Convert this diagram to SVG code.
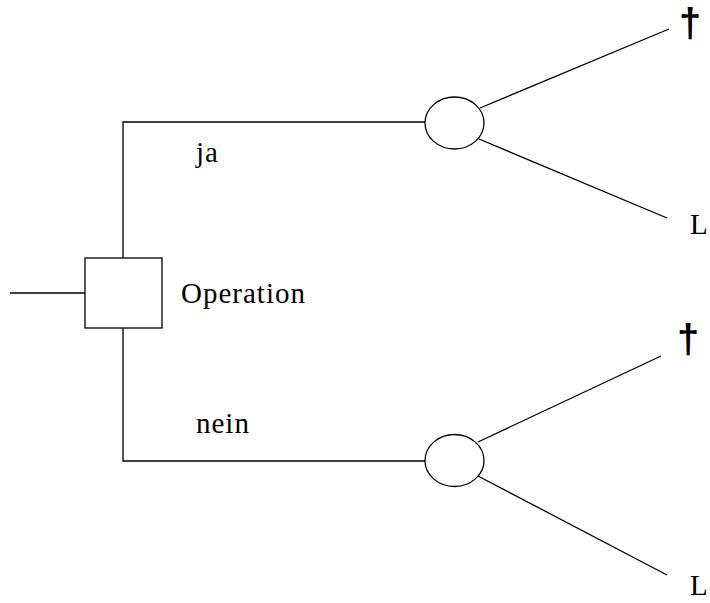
<svg xmlns="http://www.w3.org/2000/svg" width="710" height="603" viewBox="0 0 710 603">
<style>
.ln{stroke:#000;stroke-width:1.3;fill:none}
.nd{stroke:#000;stroke-width:1.3;fill:#fff}
.t{font-family:'Liberation Serif','DejaVu Serif',serif;font-size:29px;fill:#000;letter-spacing:1px}
.d{font-family:'Liberation Sans',sans-serif;font-size:40px;font-weight:bold;fill:#000;text-anchor:middle}
</style>
<rect width="710" height="603" fill="#fff"/>
<g id="connectors">
<line class="ln" x1="10" y1="293" x2="85" y2="293"/>
<polyline class="ln" points="123,258 123,122 425,122"/>
<polyline class="ln" points="123,328 123,461 425,461"/>
<line class="ln" x1="480" y1="108" x2="669" y2="29"/>
<line class="ln" x1="479" y1="139" x2="667" y2="218"/>
<line class="ln" x1="478" y1="442" x2="661" y2="356"/>
<line class="ln" x1="478" y1="476" x2="667" y2="575"/>
</g>
<g id="decision">
<rect class="nd" x="85" y="258" width="77" height="70"/>
<text class="t" x="181" y="303">Operation</text>
</g>
<g id="label-ja"><text class="t" x="196" y="162">ja</text></g>
<g id="label-nein"><text class="t" x="196" y="433">nein</text></g>
<g id="chance-top"><ellipse class="nd" cx="454.5" cy="123" rx="29.5" ry="26"/></g>
<g id="chance-bottom"><ellipse class="nd" cx="454.5" cy="460.5" rx="29.5" ry="26"/></g>
<g id="outcome-top-death"><text class="d" x="690" y="37">†</text></g>
<g id="outcome-top-life"><text class="t" x="690" y="234">L</text></g>
<g id="outcome-bottom-death"><text class="d" x="688" y="353">†</text></g>
<g id="outcome-bottom-life"><text class="t" x="690" y="595">L</text></g>
</svg>
